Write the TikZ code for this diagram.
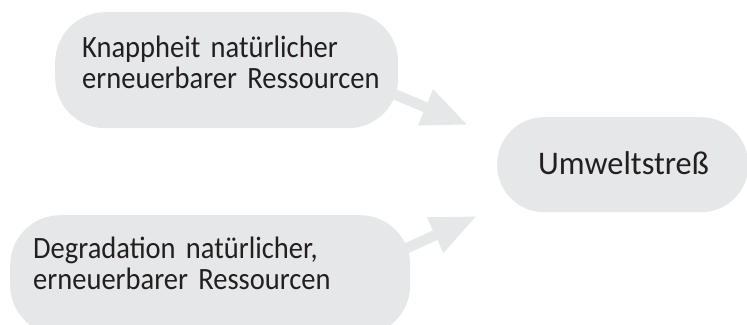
\documentclass[tikz,border=0pt]{standalone}
\usepackage{fontspec}
\setmainfont{Carlito}[FakeStretch=0.92]
\newfontfamily\bigfont{Carlito}[FakeStretch=0.98]
\usetikzlibrary{arrows.meta}
\definecolor{bubblegrey}{HTML}{E6E7E8}
\definecolor{inkgrey}{HTML}{231F20}
\tikzset{
  bubble/.style={rectangle, rounded corners=#1, fill=bubblegrey, draw=none, inner sep=0pt, anchor=north west},
  txt/.style={inner sep=0pt, anchor=base west, text=inkgrey, align=left, text width=340pt, font=\fontsize{31}{31}\selectfont},
  bigarrow/.style={draw=bubblegrey, line width=10.5pt, -{Triangle[length=46pt,width=36pt]}}
}
\begin{document}
\begin{tikzpicture}[x=1pt,y=-1pt]
\useasboundingbox (0,0) rectangle (747,324);
% bubbles
\node[bubble=50pt, minimum width=343pt, minimum height=116pt] (top) at (55,12) {};
\node[bubble=47pt, minimum width=251pt, minimum height=95pt] (right) at (497,117) {};
\node[bubble=50pt, minimum width=400pt, minimum height=120pt] (bottom) at (10,215) {};
% arrows
\coordinate (topstart) at (360,80);
\coordinate (toptip) at (468,125);
\coordinate (botstart) at (370,265);
\coordinate (bottip) at (477,216);
\draw[bigarrow] (topstart) -- (toptip);
\draw[bigarrow] (botstart) -- (bottip);
% texts
\node[txt] (toptext) at (82,57) {Knappheit natürlicher\\erneuerbarer Ressourcen};
\node[txt, font=\bigfont\fontsize{33}{34}\selectfont, text width=200pt] (righttext) at (538,174) {Umweltstreß};
\node[txt] (bottext) at (33,258) {Degradation natürlicher,\\erneuerbarer Ressourcen};
\end{tikzpicture}
\end{document}
